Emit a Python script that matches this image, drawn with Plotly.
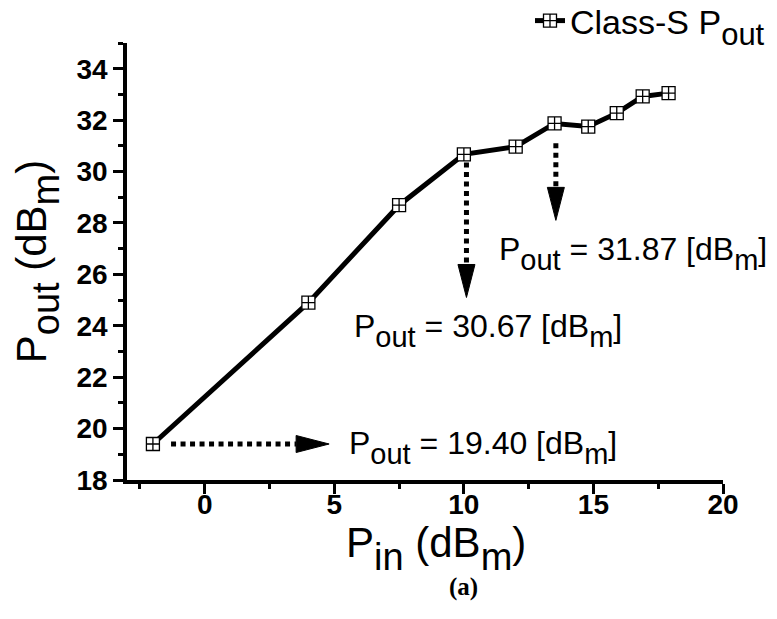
import plotly.graph_objects as go

# ---- data ----
pin = [-2, 4, 7.5, 10, 12, 13.5, 14.8, 15.9, 16.9, 17.9]
pout = [19.40, 24.90, 28.69, 30.67, 30.97, 31.87, 31.75, 32.27, 32.92, 33.05]

x_ticks = [0, 5, 10, 15, 20]
x_minor = [-2.5, 2.5, 7.5, 12.5, 17.5]
y_ticks = [18, 20, 22, 24, 26, 28, 30, 32, 34]
y_minor = [19, 21, 23, 25, 27, 29, 31, 33, 35]

# callouts: dotted arrow tail, arrow tip, label anchor, label value
arrow_tail = [(-1.3, 19.40), (10.1, 30.35), (13.55, 31.10)]
arrow_tip = [(4.8, 19.40), (10.1, 25.10), (13.55, 28.10)]
label_xy = [(5.48, 19.28), (5.68, 23.83), (11.28, 26.83)]
label_val = ["19.40", "30.67", "31.87"]

X_RANGE = [-3, 20]
Y_RANGE = [18, 35]
W, H = 777, 619
ML, MR, MT, MB = 127, 54, 43, 139
PW, PH = W - ML - MR, H - MT - MB
pxx = PW / (X_RANGE[1] - X_RANGE[0])
pxy = PH / (Y_RANGE[1] - Y_RANGE[0])

FONT = "Liberation Sans, Arial, sans-serif"


def sub(t, size):
    return ('<span style="font-size:%dpx"><sub><span style="font-size:%dpx">%s</span></sub></span>'
            % (int(size * 1.7), size, t))


def paper_x(px):
    return (px - ML) / PW


def paper_y(py):
    return (H - MB - py) / PH


fig = go.Figure()
fig.add_trace(go.Scatter(
    x=pin, y=pout, mode="lines+markers",
    name="Class-S P" + sub("out", 31),
    line=dict(color="black", width=5),
    marker=dict(symbol="square-cross", size=13, color="white",
                line=dict(color="black", width=1.3)),
))

shapes = []
HEAD_LEN = 33  # px
HEAD_HALF = 8.5  # px
for (tx, ty), (hx, hy) in zip(arrow_tail, arrow_tip):
    if ty == hy:  # horizontal
        bx, by = hx - HEAD_LEN / pxx, hy
        w = HEAD_HALF / pxy
        path = "M %f %f L %f %f L %f %f Z" % (bx, by - w, hx, hy, bx, by + w)
    else:  # vertical downward
        bx, by = hx, hy + HEAD_LEN / pxy
        w = HEAD_HALF / pxx
        path = "M %f %f L %f %f L %f %f Z" % (bx - w, by, hx, hy, bx + w, by)
    shapes.append(dict(type="line", xref="x", yref="y", x0=tx, y0=ty, x1=bx, y1=by,
                       line=dict(color="black", width=5, dash="5px,4.5px")))
    shapes.append(dict(type="path", xref="x", yref="y", path=path,
                       fillcolor="black", line=dict(color="black", width=1)))

annotations = []
for (lx, ly), v in zip(label_xy, label_val):
    annotations.append(dict(
        x=lx, y=ly, xref="x", yref="y", xanchor="left", yanchor="middle",
        showarrow=False,
        text="P" + sub("out", 29) + " = " + v + " [dB" + sub("m", 29) + "]",
        font=dict(family=FONT, size=32, color="black"),
    ))
# x-axis title
annotations.append(dict(
    x=paper_x(436), y=paper_y(548), xref="paper", yref="paper",
    xanchor="center", yanchor="middle", showarrow=False,
    text="P" + sub("in", 38) + " (dB" + sub("m", 38) + ")",
    font=dict(family=FONT, size=42, color="black"),
))
# panel label
annotations.append(dict(
    x=paper_x(463), y=paper_y(587), xref="paper", yref="paper",
    xanchor="center", yanchor="middle", showarrow=False, text="(a)",
    font=dict(family="Liberation Serif, serif", size=25, color="black", weight="bold"),
))

axis_common = dict(
    showline=True, linecolor="black", linewidth=3.5, mirror=False,
    ticks="outside", ticklen=10, tickwidth=3, tickcolor="black",
    showgrid=False, zeroline=False,
    tickfont=dict(family=FONT, size=28, color="black", weight="bold"),
)

fig.update_xaxes(
    range=X_RANGE, tickmode="array", tickvals=x_ticks, ticktext=[str(v) for v in x_ticks],
    minor=dict(tickmode="array", tickvals=x_minor, ticks="outside", ticklen=5,
               tickwidth=3, tickcolor="black"),
    ticklabelstandoff=-13,
    **axis_common,
)
fig.update_yaxes(
    range=Y_RANGE, tickmode="array", tickvals=y_ticks, ticktext=[str(v) for v in y_ticks],
    minor=dict(tickmode="array", tickvals=y_minor, ticks="outside", ticklen=5,
               tickwidth=3, tickcolor="black"),
    title=dict(text="P" + sub("out", 38) + " (dB" + sub("m", 38) + ")",
               font=dict(family=FONT, size=42, color="black"), standoff=18),
    **axis_common,
)

fig.update_layout(
    width=W, height=H,
    margin=dict(l=ML, r=MR, t=MT, b=MB, autoexpand=False),
    plot_bgcolor="white", paper_bgcolor="white",
    showlegend=True,
    legend=dict(x=paper_x(530), y=paper_y(21),
                xanchor="left", yanchor="middle", bgcolor="rgba(0,0,0,0)",
                font=dict(family=FONT, size=34, color="black")),
    shapes=shapes, annotations=annotations,
)

fig.write_html("out.html")
